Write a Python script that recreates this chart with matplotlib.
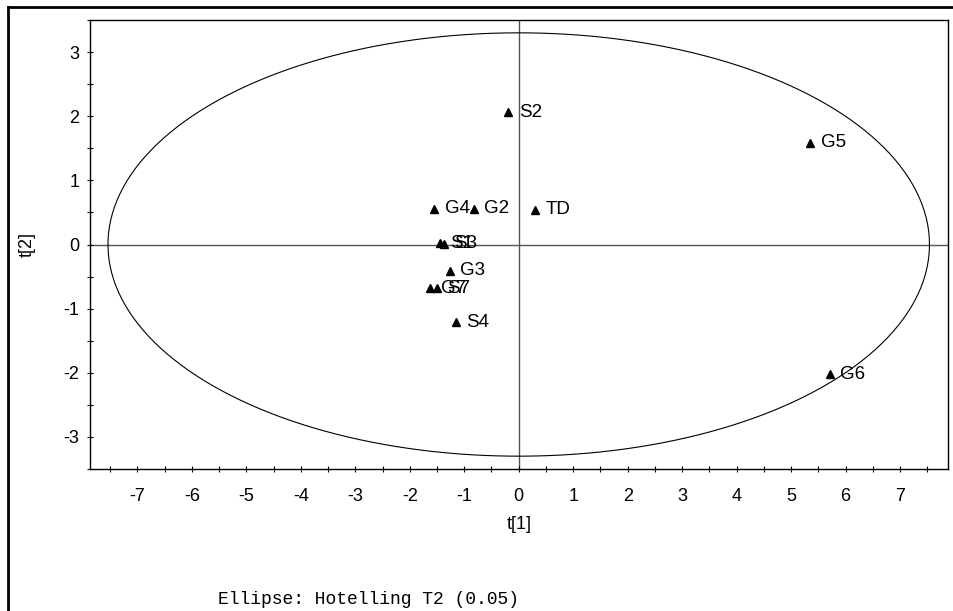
import numpy as np
import matplotlib
matplotlib.use("Agg")
import matplotlib.pyplot as plt
from matplotlib.lines import Line2D

# PCA score plot: t[1] vs t[2] with Hotelling T2 ellipse
labels = ["S2", "G5", "G4", "G2", "TD", "S1", "S3", "G3", "G7", "S7", "S4", "G6"]
t1 = [-0.19, 5.35, -1.55, -0.82, 0.30, -1.45, -1.37, -1.27, -1.62, -1.50, -1.15, 5.71]
t2 = [2.06, 1.59, 0.56, 0.56, 0.54, 0.02, 0.01, -0.41, -0.68, -0.68, -1.21, -2.02]

# ellipse semi-axes (Hotelling T2, 0.05)
ell_a = 7.54
ell_b = 3.30

x_ticks = [-7, -6, -5, -4, -3, -2, -1, 0, 1, 2, 3, 4, 5, 6, 7]
y_ticks = [-3, -2, -1, 0, 1, 2, 3]

plt.rcParams["font.family"] = ["Liberation Sans", "DejaVu Sans"]
plt.rcParams["axes.unicode_minus"] = False

fig = plt.figure(figsize=(9.54, 6.11), dpi=100)
ax = fig.add_axes([90 / 954, 1 - 469 / 611, (948 - 90) / 954, (469 - 20) / 611])

ax.set_xlim(-7.87, 7.88)
ax.set_ylim(-3.42, 3.41)

# crosshair through the origin
ax.axhline(0, color="#555555", lw=1.0, zorder=1)
ax.axvline(0, color="#555555", lw=1.0, zorder=1)

# confidence ellipse
th = np.linspace(0, 2 * np.pi, 400)
ax.plot(ell_a * np.cos(th), ell_b * np.sin(th), color="black", lw=0.8, zorder=2)

# score points
ax.plot(t1, t2, linestyle="none", marker="^", color="black", ms=6.0, zorder=3)
for x, y, s in zip(t1, t2, labels):
    ax.annotate(s, (x, y), xytext=(7.5, 0), textcoords="offset points",
                va="center", ha="left", fontsize=13.5, color="black", zorder=4)

ax.set_xticks(x_ticks)
ax.set_yticks(y_ticks)
ax.set_xticks(np.arange(-7.5, 8.0, 1.0), minor=True)
ax.set_yticks(np.arange(-3.5, 3.6, 1.0), minor=True)
ax.tick_params(which="both", direction="inout", length=5, width=0.8, labelsize=13)
ax.tick_params(axis="x", which="major", pad=11)
ax.tick_params(axis="y", which="major", pad=5)
for sp in ax.spines.values():
    sp.set_linewidth(1.0)

ax.set_xlabel("t[1]", fontsize=13, labelpad=8)
ax.set_ylabel("t[2]", fontsize=13, labelpad=20)

fig.text(369 / 954, 1 - 600 / 611, "Ellipse: Hotelling T2 (0.05)",
         family=["Liberation Mono", "DejaVu Sans Mono"], fontsize=13,
         ha="center", va="center")

# outer frame edges
fig.add_artist(Line2D([8.5 / 954, 1.0], [1 - 7 / 611, 1 - 7 / 611], color="black", lw=2.0,
                      transform=fig.transFigure))
fig.add_artist(Line2D([8.5 / 954, 8.5 / 954], [0.0, 1 - 7 / 611], color="black", lw=2.0,
                      transform=fig.transFigure))

fig.savefig("out.png", dpi=100)
